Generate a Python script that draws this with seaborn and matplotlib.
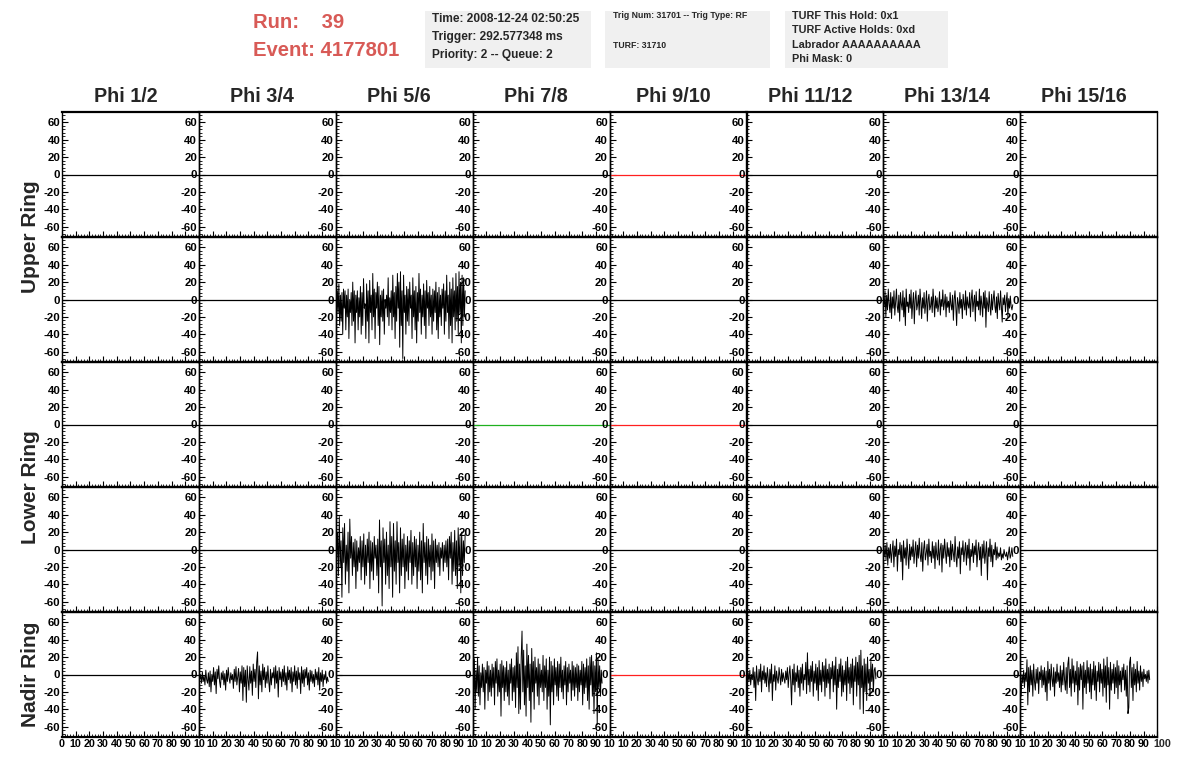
import numpy as np
import matplotlib
matplotlib.use("Agg")
import matplotlib.pyplot as plt
import seaborn as sns
from matplotlib.patches import Rectangle
from matplotlib.ticker import MultipleLocator, FixedLocator

# ---- header info ----
run_label = "Run:    39"
event_label = "Event: 4177801"
box_time = ["Time: 2008-12-24 02:50:25", "Trigger: 292.577348 ms", "Priority: 2 -- Queue: 2"]
box_trig = ["Trig Num: 31701 -- Trig Type: RF", "TURF: 31710"]
box_turf = ["TURF This Hold: 0x1", "TURF Active Holds: 0xd", "Labrador AAAAAAAAAA", "Phi Mask: 0"]

phi_labels = ["Phi 1/2", "Phi 3/4", "Phi 5/6", "Phi 7/8", "Phi 9/10", "Phi 11/12", "Phi 13/14", "Phi 15/16"]
ring_labels = ["Upper Ring", "Lower Ring", "Nadir Ring"]
ring_rows = [(0, 1), (2, 3), (4, 4)]

x_ticks = [0, 10, 20, 30, 40, 50, 60, 70, 80, 90, 100]
y_ticks = [-60, -40, -20, 0, 20, 40, 60]

# flat (empty) channels
flat_t = [0, 100]
flat_v = [0, 0]
wave_end = 94.5

# waveforms (mV)
upper_56 = [15, -20, 10, -15, 18, -30, 5, -25, 8, -40, 12, -10, 10, -35, 5, -20, 12, -45, 0, -15,
            8, -30, 20, -25, 10, -50, 5, -15, 10, -35, 2, -20, 15, -40, 8, -30, 24, -10, -5, -45,
            18, -25, 10, -50, 22, -15, 5, -35, 30, -20, 12, -45, 8, -10, 20, -30, 15, -52, 5, -20,
            10, -25, 12, -40, 0, -10, 5, -20, 25, -30, 2, -15, 10, -35, 28, -20, 8, -45, 15, -25,
            30, -10, 20, -55, 32, -30, 10, -68, 28, -15, 5, -40, 15, -25, 12, -30, 20, -10, 5, -45,
            25, -20, 10, -35, 15, -50, 8, -25, 30, -15, 12, -40, 5, -20, 18, -30, 10, -45, 22, -10,
            8, -30, 15, -20, 5, -40, 12, -25, 10, -15, 20, -35, 8, -45, 14, -20, 5, -30, 12, -10,
            18, -40, 10, -25, 28, -15, 5, -45, 20, -30, 12, -50, 25, -20, 10, -35, 30, -25, 15, -40,
            32, -15, 20, -50, 28, -30, 25, -20, 10]
upper_1314 = [2, -8, 10, -20, 5, -12, 12, -5, -15, 8, -22, 3, -10, 10, -18, -2, 12, -8, -15, 5,
              -25, 8, -5, -12, 10, -20, 2, -30, 12, -8, -3, -15, 6, -10, 11, -22, -4, 8, -28, 0,
              10, -12, -6, 5, -18, 12, -3, -22, 2, -10, 8, -16, -5, 10, -25, 0, 6, -12, -8, 3,
              -15, 12, -5, -20, 4, -10, 2, -14, -6, 9, -18, 0, -8, 11, -12, -4, 6, -20, 3, -9,
              -2, -15, 8, -6, -12, 5, -24, 0, 10, -8, -30, 2, -4, -16, 8, -10, 0, -22, 6, -5,
              -12, 10, -18, 3, -6, -10, 8, -20, 0, 11, -14, -3, 5, -25, 9, -8, -2, -12, 12, -18,
              4, -6, -20, 8, -10, 10, -32, 2, -5, -14, 9, -8, -18, 6, -12, 0, 10, -8, -15, 3,
              -22, 7, -4, -12, 10, -9, -26, 2, -6, 5, -14, -2, 8, -20, 1, -10, 4, -8, -12, -6]
lower_56 = [35, -10, 20, -30, 38, -20, 10, -55, 25, -15, 30, -40, 5, -25, 20, -50, 35, -10, 15, -30,
            8, -20, 12, -45, 10, -25, 2, -15, 15, -35, 10, -20, 18, -40, 5, -30, 12, -15, 20, -45,
            10, -25, 8, -35, 15, -10, 5, -30, 12, -50, 34, -20, 10, -65, 25, -15, 12, -40, 20, -30,
            5, -45, 32, -20, 15, -55, 30, -25, 10, -40, 32, -15, 8, -50, 25, -30, 12, -20, 18, -45,
            5, -25, 15, -35, 10, -15, 22, -40, 8, -30, 15, -20, 12, -45, 5, -25, 20, -35, 10, -50,
            30, -15, 8, -30, 15, -40, 12, -20, 5, -35, 18, -25, 10, -45, 12, -15, 5, -20, 8, -30,
            2, -10, 8, -25, 5, -15, 10, -20, 12, -35, 15, -10, 20, -40, 8, -25, 22, -30, 10, -45,
            25, -20, 15, -50, 20, -30, 10, -15, 18]
lower_1314 = [0, -8, 5, -12, 8, -18, 2, -10, 6, -15, -3, 10, -20, 4, -8, 12, -25, 0, -6, 8,
              -14, 5, -35, 10, -10, 2, -18, 12, -5, -22, 6, -12, 3, -8, 11, -16, -2, 9, -20, 5,
              -10, 13, -6, -14, 8, -25, 0, 10, -12, -4, 6, -18, 12, -8, -2, -15, 9, -10, 4, -22,
              8, -6, -12, 11, -18, 0, 7, -26, 5, -10, 12, -3, -16, 8, -8, 2, -20, 10, -12, 6,
              -4, -14, 15, -8, -20, 3, -10, 9, -28, 2, -6, 10, -14, -2, 8, -18, 5, -10, 12, -24,
              0, -8, 7, -15, 4, -6, 11, -20, -2, 8, -12, 3, -30, 6, -10, 10, -16, -4, 9, -35,
              2, -8, 12, -14, 5, -20, 0, -6, 8, -12, 3, -10, -4, -8, 2, -12, -5, -10, 0, -6,
              -8, -3, -12, -5, 3, -10, -6, 2, -8]
nadir_34 = [2, -5, 0, -10, 3, -8, -2, -12, 5, -6, -10, 2, -14, 4, -20, 0, -8, 8, -12, 3,
            -22, 6, -5, 10, -8, -15, 2, -6, 4, -12, 1, -18, 5, -8, 8, -4, -10, 2, -6, 0,
            -16, 6, -8, 9, -12, -3, 7, -20, 3, -10, 10, -30, 8, -14, 5, -32, 10, -6, -18, 9,
            -10, 4, -24, 12, -8, 6, -15, 14, 26, -28, 10, -12, 4, -20, 12, -6, 8, -15, 3, -10,
            10, -8, -20, 6, -12, 2, -4, 8, -16, 10, -10, 4, -26, 8, -6, 3, -14, 6, -8, 10,
            -12, 2, -18, 9, -6, 5, -10, 8, -20, 3, -8, 10, -12, 4, -16, 8, -6, 2, -22, 9,
            -10, 5, -14, 6, -4, 8, -12, 2, -18, 5, -8, 4, -10, 0, -14, 6, -6, 3, -12, 8,
            -18, 2, -8, 5, -14, 0, -6, 4, -10, -3, -8]
nadir_78 = [15, -30, 18, -40, 5, -20, 20, -25, 10, -35, 2, -15, 12, -20, 8, -40, 5, -10, 15, -30,
            10, -20, 5, -25, 12, -15, 8, -35, 15, -10, 18, -25, 5, -20, 12, -48, 16, -15, 10, -30,
            8, -20, 15, -25, 5, -35, 12, -10, 18, -30, 8, -20, 10, -38, 25, -15, 32, -45, 12, -40,
            20, 50, -20, 28, -35, 10, -48, 35, -15, 22, -30, 12, -55, 30, -20, 15, -40, 20, -10, 8,
            -25, 18, -35, 12, -15, 5, -20, 22, -30, 10, -15, 18, -40, 5, -25, 20, -58, 15, -20, 10,
            -35, 18, -12, 8, -25, 15, -30, 12, -15, 20, -20, 5, -28, 10, -12, 15, -35, 8, -20, 12,
            -10, 5, -30, 15, -18, 10, -25, 8, -15, 12, -30, 10, -20, 5, -12, 15, -35, 12, -22, 8,
            -15, 18, -30, 10, -40, 20, -12, 22, -25, 15, -45, 10, -20, 25, -58, 18, -15, 10, -25, 5,
            -10]
nadir_1112 = [-5, -10, 2, -8, 5, -12, 0, -6, 8, -15, 3, -30, 10, -5, -12, 6, -8, 12, -20, 4,
              -6, 10, -10, 2, -14, 8, -4, -20, 6, -10, 12, -30, 0, -8, 10, -18, 4, -5, -10, 8,
              -2, -12, 6, -8, 2, -5, -10, 4, -6, 8, -15, 0, 10, -8, -35, 6, -12, 12, -20, 2,
              -8, 10, -15, 5, -25, 8, -10, 12, -18, 0, -6, 14, -22, 25, -12, 6, -20, 10, -8, 15,
              -25, 4, -10, 12, -18, 8, -30, 16, -12, 5, -20, 14, -8, 10, -25, 18, -15, 6, -10, 12,
              -28, 8, -5, 15, -20, 10, -12, 20, -40, 6, -15, 12, -8, 18, -25, 10, -20, 5, -12, 15,
              -30, 20, -10, 8, -22, 12, -15, 18, -35, 10, -8, 20, -25, 14, -12, 22, -40, 28, -15, 10,
              -45, 18, -20, 12, -30, 20, -10, 6, -25, 15, -8, 12, -20, 5, 8, -5]
nadir_1516 = [-5, -25, 0, -10, 5, -15, 2, -8, 17, -35, 8, -20, 10, -12, 5, -25, 12, -8, -18, 6,
              -10, 8, -22, 3, -6, 10, -15, 5, -12, 8, -20, 4, -30, 15, -10, 6, -18, 12, -5, -14,
              8, -25, 3, -10, 12, -8, 2, -15, 10, -20, 5, -12, 14, -6, -18, 8, -22, 12, 20, -15,
              6, -25, 18, -10, 10, -20, 4, -12, 15, -35, 8, -18, 12, -6, 10, -40, 14, -15, 5, -22,
              16, -10, 8, -20, 12, -28, 6, -12, 15, -18, 10, -30, 4, -8, 14, -20, 12, -10, 6, -25,
              18, -15, 10, -32, 20, -12, 8, -40, 14, -18, 6, -10, 12, -22, 8, -15, 16, -28, 10, -12,
              4, -20, 8, -6, 12, -18, 5, -25, 10, -45, -38, 14, 20, -15, 8, -30, 12, -12, 6, -20,
              15, -10, 4, -18, 10, -8, 3, -14, 6, -5, 0, -8, 4, -10, 5, -6]

waves = {(1, 2): upper_56, (1, 6): upper_1314,
         (3, 2): lower_56, (3, 6): lower_1314,
         (4, 1): nadir_34, (4, 3): nadir_78, (4, 5): nadir_1112, (4, 7): nadir_1516}
trace_color = {(0, 4): "#ff2020", (2, 3): "#20b020", (2, 4): "#ff2020", (4, 4): "#ff2020"}

sns.set_style("ticks")
plt.rcParams['font.family'] = ['Liberation Sans', 'DejaVu Sans']
plt.rcParams['font.weight'] = 'bold'

W, H = 1196.0, 772.0
fig = plt.figure(figsize=(W / 100, H / 100), dpi=100)
fig.patch.set_facecolor("white")

left0, top0, pw, ph = 62.0, 112.0, 136.9, 125.0
n_rows, n_cols = 5, 8

for r in range(n_rows):
    for c in range(n_cols):
        ax = fig.add_axes([(left0 + c * pw) / W, 1 - (top0 + (r + 1) * ph) / H, pw / W, ph / H])
        ax.set_facecolor("none")
        if (r, c) in waves:
            v = waves[(r, c)]
            t = np.linspace(0, wave_end, len(v))
            sns.lineplot(x=t, y=v, ax=ax, color="black", lw=0.7, estimator=None, sort=False)
        else:
            sns.lineplot(x=flat_t, y=flat_v, ax=ax, color=trace_color.get((r, c), "black"),
                         lw=0.9, estimator=None, sort=False)
        ax.set_xlim(0, 100)
        ax.set_ylim(-72, 72)
        ax.set_xlabel("")
        ax.set_ylabel("")
        ax.yaxis.set_major_locator(FixedLocator(y_ticks))
        ax.yaxis.set_minor_locator(MultipleLocator(4))
        ax.xaxis.set_major_locator(FixedLocator(x_ticks))
        ax.xaxis.set_minor_locator(MultipleLocator(2))
        ax.tick_params(which="both", direction="in", top=False, right=False, colors="black")
        ax.tick_params(which="major", length=4, width=0.8, labelsize=8.2, pad=1.2)
        ax.tick_params(axis="x", which="major", labelsize=7.7)
        ax.tick_params(which="minor", length=2, width=0.6)
        ax.set_yticks(y_ticks)
        ax.set_yticklabels([str(y) for y in y_ticks], fontweight="bold")
        if r == n_rows - 1:
            labs = [str(x) for x in x_ticks]
            labs[-1] = "10" if c < n_cols - 1 else ""
            if c > 0:
                labs[0] = ""
            ax.set_xticklabels(labs, fontweight="bold")
            if c == n_cols - 1:
                # last axis label, nudged right so it does not run into "90"
                ax.annotate("100", xy=(100, 0), xycoords=("data", "axes fraction"),
                            xytext=(3.5, -1.3), textcoords="offset points",
                            ha="center", va="top", fontsize=7.7, fontweight="bold")
        else:
            ax.set_xticklabels([])
        for side, lw in [("left", 1.0), ("right", 1.0), ("top", 1.6), ("bottom", 1.6)]:
            ax.spines[side].set_visible(True)
            ax.spines[side].set_linewidth(lw)
            ax.spines[side].set_color("black")

# column titles
for c, lab in enumerate(phi_labels):
    fig.text((left0 + (c + 0.5) * pw - 5) / W, 1 - 97 / H, lab, ha="center", va="center",
             fontsize=14.2, fontweight="bold")

# ring labels
for lab, (r0, r1) in zip(ring_labels, ring_rows):
    yc = top0 + (r0 + r1 + 1) * ph / 2
    fig.text(30 / W, 1 - yc / H, lab, rotation=90, ha="center", va="center",
             fontsize=15, fontweight="bold")

# header
red = "#d85a56"
fig.text(253 / W, 1 - 23 / H, run_label, ha="left", va="center", fontsize=14.6, fontweight="bold", color=red)
fig.text(253 / W, 1 - 51 / H, event_label, ha="left", va="center", fontsize=14.6, fontweight="bold", color=red)

boxes = [(425, 591), (605, 770), (785, 948)]
for x0, x1 in boxes:
    fig.patches.append(Rectangle((x0 / W, 1 - 68 / H), (x1 - x0) / W, 57 / H,
                                 transform=fig.transFigure, facecolor="#f0f0f0", edgecolor="none"))

for i, s in enumerate(box_time):
    fig.text(432 / W, 1 - (19 + 18 * i) / H, s, ha="left", va="center", fontsize=8.6, fontweight="bold")
for s, y in zip(box_trig, [16, 46]):
    fig.text(613 / W, 1 - y / H, s, ha="left", va="center", fontsize=6.3, fontweight="bold")
for i, s in enumerate(box_turf):
    fig.text(792 / W, 1 - (16 + 14.3 * i) / H, s, ha="left", va="center", fontsize=7.8, fontweight="bold")

fig.savefig("out.png", dpi=100, facecolor="white")
